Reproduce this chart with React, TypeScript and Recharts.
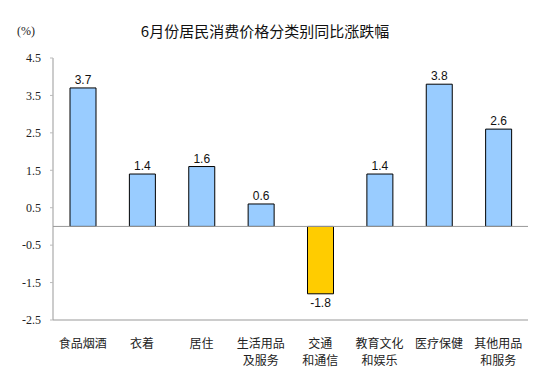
import React from 'react';
import { BarChart, Bar, XAxis, YAxis, ReferenceLine, Cell, LabelList } from 'recharts';

const categories = ['食品烟酒', '衣着', '居住', '生活用品\n及服务', '交通\n和通信', '教育文化\n和娱乐', '医疗保健', '其他用品\n和服务'];
const values = [3.7, 1.4, 1.6, 0.6, -1.8, 1.4, 3.8, 2.6];
const yTicks = [-2.5, -1.5, -0.5, 0.5, 1.5, 2.5, 3.5, 4.5];
const title = '6月份居民消费价格分类别同比涨跌幅';
const unit = '(%)';

const data = categories.map((c, i) => ({ name: c, value: values[i] }));

const XTick = (props: any) => {
  const { x, y, payload } = props;
  const lines = String(payload.value).split('\n');
  return (
    <g>
      {lines.map((l: string, i: number) => (
        <text key={i} x={x} y={y + 20 + i * 17} textAnchor="middle" fontSize={12} fill="#222"
          fontFamily='"Noto Sans CJK SC", sans-serif'>{l}</text>
      ))}
    </g>
  );
};

const ValueLabel = (props: any) => {
  const { x, y, width, height, value } = props;
  const top = Math.min(y, y + height);
  const bottom = Math.max(y, y + height);
  const cx = x + width / 2;
  const ty = value >= 0 ? top - 4 : bottom + 13;
  return (
    <text x={cx} y={ty} textAnchor="middle" fontSize={12} fill="#111"
      fontFamily='"Liberation Sans", Arial, sans-serif'>{value}</text>
  );
};

export default function App() {
  return (
    <div style={{ position: 'absolute', left: 0, top: 0, width: 553, height: 384, background: '#fff' }}>
      <div style={{ position: 'absolute', left: 0, width: 530, top: 20, textAlign: 'center', fontSize: 15,
        fontFamily: '"Noto Sans CJK SC", sans-serif', color: '#111' }}>{title}</div>
      <div style={{ position: 'absolute', left: 17, top: 24, fontSize: 12,
        fontFamily: '"Liberation Serif", serif', color: '#222' }}>{unit}</div>
      <BarChart width={553} height={384} data={data}
        margin={{ top: 58, right: 25, bottom: 0, left: 0 }} barCategoryGap="28%">
        <XAxis dataKey="name" xAxisId="b" axisLine={{ stroke: '#999' }} tickLine={false} interval={0}
          tick={<XTick />} height={64} />
        <XAxis dataKey="name" xAxisId="t" orientation="top" axisLine={{ stroke: '#999' }} tickLine={false}
          tick={false} height={0} />
        <YAxis yAxisId="l" domain={[-2.5, 4.5]} ticks={yTicks} interval={0} axisLine={{ stroke: '#999' }}
          tickLine={{ stroke: '#bbb' }} tickSize={3} tickMargin={9} width={53}
          tick={{ fontSize: 12, fill: '#222', fontFamily: '"Liberation Serif", serif' }} />
        <YAxis yAxisId="r" orientation="right" domain={[-2.5, 4.5]} axisLine={{ stroke: '#999' }}
          tickLine={false} tick={false} width={0} />
        <ReferenceLine y={0} xAxisId="b" yAxisId="l" stroke="#999" />
        <Bar dataKey="value" xAxisId="b" yAxisId="l" isAnimationActive={false} barSize={26}
          stroke="#000" strokeWidth={1}>
          {data.map((d, i) => (
            <Cell key={i} fill={d.value < 0 ? '#FFCC00' : '#99CCFF'} />
          ))}
          <LabelList dataKey="value" content={<ValueLabel />} />
        </Bar>
      </BarChart>
    </div>
  );
}
